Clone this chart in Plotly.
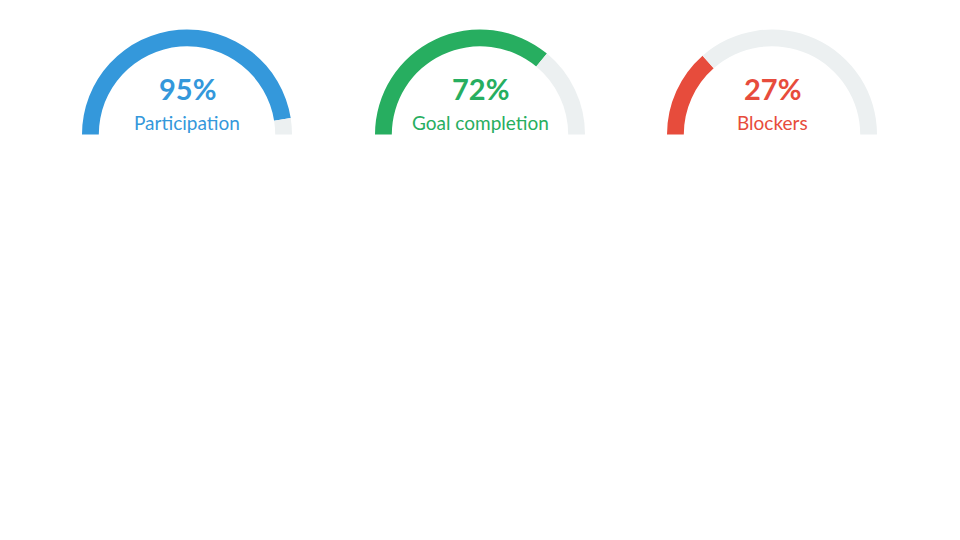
import plotly.graph_objects as go

# gauge data
labels = ["Participation", "Goal completion", "Blockers"]
values = [95, 72, 27]
colors = ["#3498db", "#27ae60", "#e74c3c"]
track_color = "#ecf0f1"

W, H = 960, 540
# page body has an 8px margin, so pull everything back by that
off = 8
centers_x = [187 - off, 480 - off, 772 - off]   # px
center_y = 134.5 - off                           # px from top
radius = 105

fig = go.Figure()

for i, (lab, val, col) in enumerate(zip(labels, values, colors)):
    cx = centers_x[i]
    fig.add_trace(
        go.Pie(
            values=[val, 100 - val, 100],
            marker=dict(colors=[col, track_color, "rgba(0,0,0,0)"],
                        line=dict(width=0)),
            hole=0.84,
            sort=False,
            direction="clockwise",
            rotation=-90,
            textinfo="none",
            hoverinfo="skip",
            showlegend=False,
            domain=dict(
                x=[(cx - radius) / W, (cx + radius) / W],
                y=[(H - center_y - radius) / H, (H - center_y + radius) / H],
            ),
        )
    )
    fig.add_annotation(
        x=cx / W, y=(H - (88.5 - off)) / H, xref="paper", yref="paper",
        text="<b>%d%%</b>" % val, showarrow=False,
        font=dict(family="Lato", size=29, color=col),
        xanchor="center", yanchor="middle",
    )
    fig.add_annotation(
        x=cx / W, y=(H - (122.5 - off)) / H, xref="paper", yref="paper",
        text=lab, showarrow=False,
        font=dict(family="Lato", size=19, color=col),
        xanchor="center", yanchor="middle",
    )

fig.update_layout(
    width=W, height=H,
    margin=dict(l=0, r=0, t=0, b=0),
    paper_bgcolor="white",
    plot_bgcolor="white",
)

fig.write_html("out.html")
